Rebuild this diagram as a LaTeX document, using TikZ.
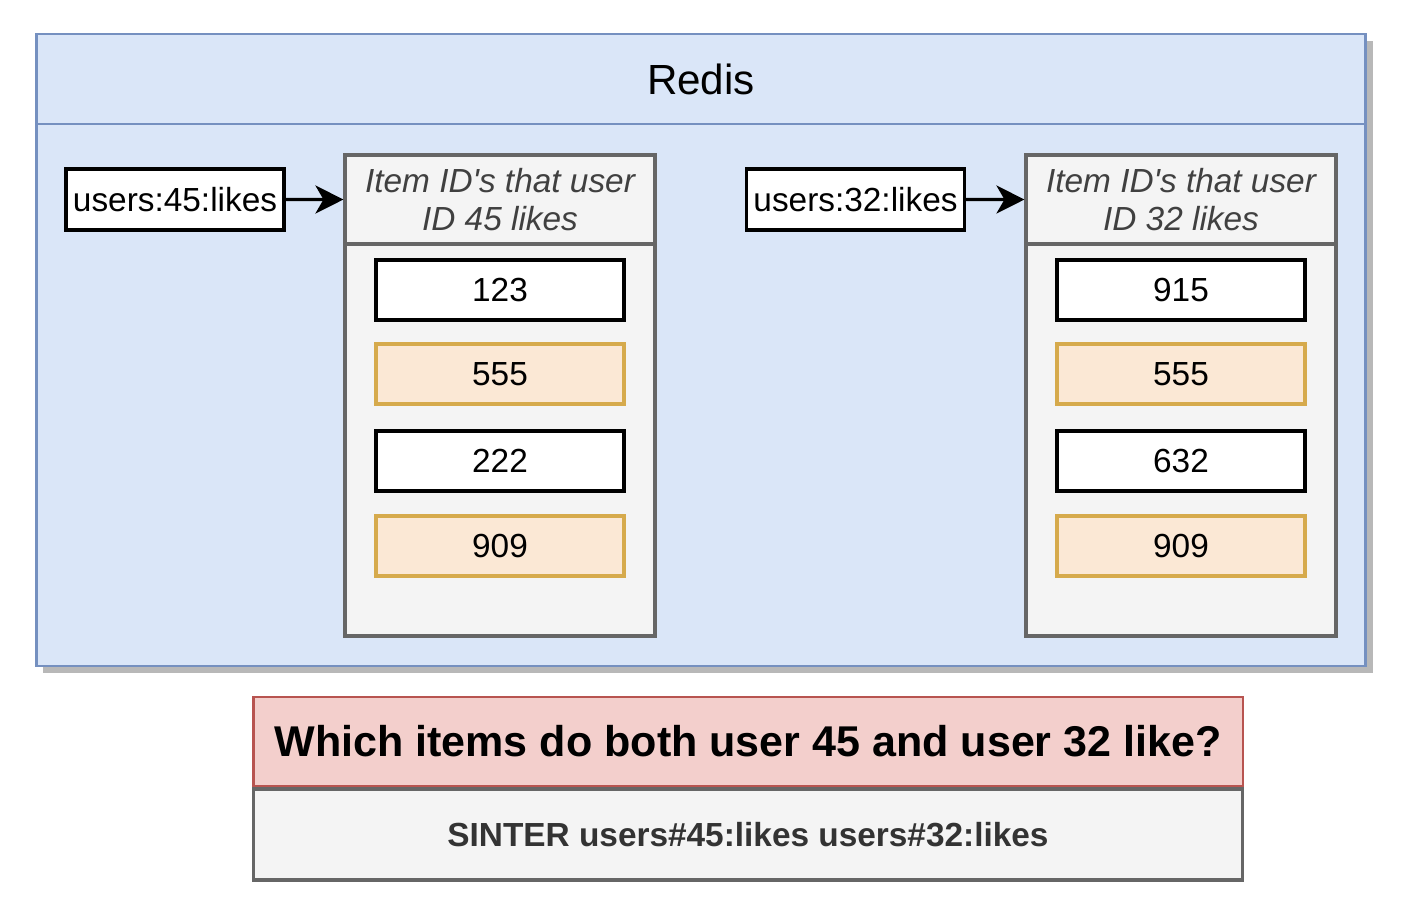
\documentclass[tikz,border=0pt]{standalone}
\usepackage{fontspec}
\setmainfont{Liberation Sans}[Ligatures = TeXOff]
\usepackage{tikz}
\usetikzlibrary{arrows.meta}
\usetikzlibrary{positioning}

\definecolor{redisfill}{HTML}{DAE6F8}
\definecolor{redisline}{HTML}{7590C0}
\definecolor{setfill}{HTML}{F4F4F4}
\definecolor{setline}{HTML}{666666}
\definecolor{sharedfill}{HTML}{FBE8D5}
\definecolor{sharedline}{HTML}{D6AA4C}
\definecolor{askfill}{HTML}{F3CFCC}
\definecolor{askline}{HTML}{B85450}
\definecolor{cmdtext}{HTML}{333333}

\tikzset{
    redisbox/.style = {draw = redisline, fill = redisfill, line width = 1.6pt, minimum width = 26.6cm, inner sep = 0pt},
    setbox/.style   = {draw = setline, fill = setfill, line width = 1.8pt, minimum width = 6.2cm, inner sep = 0pt},
    keybox/.style   = {draw = black, fill = white, line width = 2pt, minimum width = 4.36cm, minimum height = 1.22cm,
                       inner sep = 0pt, font = \fontsize{19}{22}\selectfont},
    itembox/.style  = {line width = 2pt, minimum width = 4.96cm, minimum height = 1.2cm, inner sep = 0pt,
                       font = \fontsize{19}{22}\selectfont},
    arrow/.style    = {-{Stealth[length = 0.56cm, width = 0.56cm, inset = 0.16cm]}, line width = 1.8pt}
}

\begin{document}
\begin{tikzpicture}[x = 0.02cm, y = -0.02cm]
    \useasboundingbox [fill = white] (0,0) rectangle (1401,918);

    % Draw the Redis frame:
    \fill [black!28] (43,41) rectangle (1373,673);
    \node [redisbox, minimum height = 12.64cm] (redis) at (701,350) {};
    \node [redisbox, minimum height = 1.8cm, anchor = north, font = \fontsize{24}{28}\selectfont]
        (redishead) at (redis.north) {\raisebox{-2pt}{Redis}};

    % Draw the two sets:
    \node [setbox, minimum height = 9.62cm] (set45) at (500,395.5) {};
    \node [setbox, minimum height = 1.78cm, anchor = north, align = center, text = black!75,
           font = \fontsize{19}{21.6}\selectfont\itshape] (head45) at (set45.north) {Item ID's that user\\ID 45 likes};
    \node [setbox, minimum height = 9.62cm] (set32) at (1181,395.5) {};
    \node [setbox, minimum height = 1.78cm, anchor = north, align = center, text = black!75,
           font = \fontsize{19}{21.6}\selectfont\itshape] (head32) at (set32.north) {Item ID's that user\\ID 32 likes};

    % Draw the set members:
    \foreach \val/\y/\fillc/\drawc [count = \i] in {123/290/white/black, 555/374/sharedfill/sharedline,
                                                    222/461/white/black, 909/546/sharedfill/sharedline}
        \node [itembox, fill = \fillc, draw = \drawc] (a\i) at (500,\y) {\val};
    \foreach \val/\y/\fillc/\drawc [count = \i] in {915/290/white/black, 555/374/sharedfill/sharedline,
                                                    632/461/white/black, 909/546/sharedfill/sharedline}
        \node [itembox, fill = \fillc, draw = \drawc] (b\i) at (1181,\y) {\val};

    % Draw the keys:
    \node [keybox] (key45) at (175,199.5) {users:45:likes};
    \node [keybox] (key32) at (855.5,199.5) {users:32:likes};
    \draw [arrow] (key45) -- (head45);
    \draw [arrow] (key32) -- (head32);

    % Draw the question and the command:
    \node [draw = askline, fill = askfill, line width = 1.6pt, minimum width = 19.8cm, minimum height = 1.78cm,
           inner sep = 0pt, font = \fontsize{24.5}{28}\selectfont\bfseries] (ask) at (748,741.5)
        {Which items do both user 45 and user 32 like?};
    \node [draw = setline, fill = setfill, line width = 1.8pt, minimum width = 19.8cm, minimum height = 1.82cm,
           inner sep = 0pt, anchor = north, text = cmdtext, font = \fontsize{19}{22}\selectfont\bfseries]
        (cmd) at (ask.south) {SINTER users\#45:likes users\#32:likes};
\end{tikzpicture}
\end{document}
